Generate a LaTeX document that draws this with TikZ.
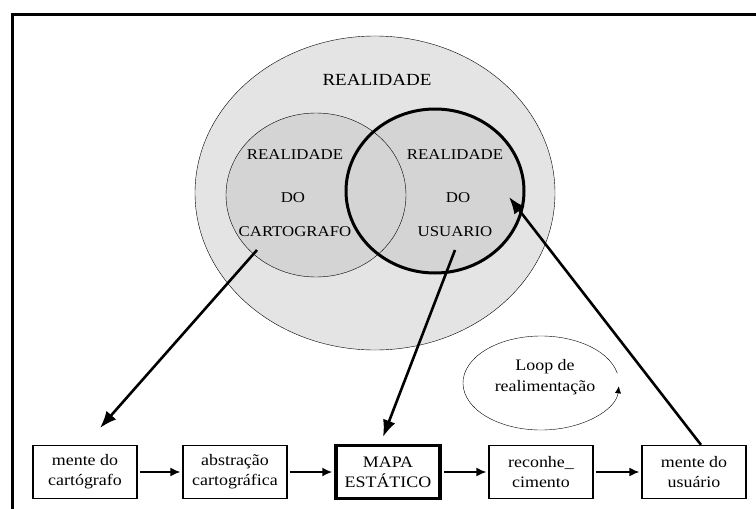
\documentclass[tikz,border=0pt]{standalone}
\usepackage{fontspec}
\setmainfont[FakeStretch=1.12]{Liberation Serif}
\usepackage{tikz}
\usetikzlibrary{shapes.geometric, arrows.meta, positioning}
\definecolor{realgray}{RGB}{228, 228, 228}
\definecolor{mindgray}{RGB}{212, 212, 212}

\begin{document}
\begin{tikzpicture}[x=1pt, y=-1pt,
  box/.style={draw, line width=1.3pt, minimum width=104pt, minimum height=53pt, inner sep=1pt, align=center, font=\fontsize{16}{20}\selectfont},
  flow/.style={line width=1.6pt, -{Latex[length=10pt, width=9pt]}, shorten >=2pt, shorten <=2pt},
  bigarrow/.style={line width=2.6pt, -{Latex[length=17pt, width=13pt]}},
  caps/.style={font=\fontsize{15}{17}\selectfont}]

\useasboundingbox (0,0) rectangle (756,509);
\draw[line width=3pt] (12,509) -- (12,14) -- (756,14);

% the three realities
\node[ellipse, draw, thin, fill=realgray, minimum width=360pt, minimum height=314pt] (realidade) at (375,193) {};
\node[ellipse, fill=mindgray, minimum width=180pt, minimum height=164pt] (realCart) at (316,195) {};
\node[ellipse, fill=mindgray, minimum width=178pt, minimum height=164pt] (realUsu) at (435,191) {};
\draw[thin] (realCart.center) ellipse [x radius=90pt, y radius=82pt];
\draw[line width=3pt] (realUsu.center) ellipse [x radius=89pt, y radius=82pt];

\node[font=\fontsize{17}{19}\selectfont] (realTxt) at (377,80) {REALIDADE};
\node[caps] (cartTxtA) at (295,155) {REALIDADE};
\node[caps] (cartTxtB) at (293,198) {DO};
\node[caps] (cartTxtC) at (295,232) {CARTOGRAFO};
\node[caps] (usuTxtA) at (455,155) {REALIDADE};
\node[caps] (usuTxtB) at (458,198) {DO};
\node[caps] (usuTxtC) at (455,232) {USUARIO};

% feedback loop
\coordinate (loopc) at (541,383);
\node[align=center, font=\fontsize{16}{21}\selectfont] (loopTxt) at (545,377) {Loop de\\realimentação};
\draw[thin, -{Latex[length=7pt, width=6pt]}] ([shift={(12:78pt and 47pt)}]loopc) arc[start angle=12, end angle=356, x radius=78pt, y radius=47pt];

% chain of boxes
\node[box] (menteCart) at (85,472) {mente do\\cartógrafo};
\node[box] (abstracao) at (235,472) {abstração\\cartográfica};
\node[box, line width=3.5pt] (mapa) at (388,472) {MAPA\\ESTÁTICO};
\node[box] (reconhec) at (541,472) {reconhe\_\\cimento};
\node[box] (menteUsu) at (694,472) {mente do\\usuário};

\draw[flow] (menteCart) -- (abstracao);
\draw[flow] (abstracao) -- (mapa);
\draw[flow] (mapa) -- (reconhec);
\draw[flow] (reconhec) -- (menteUsu);

% big arrows
\coordinate (cartFrom) at (257,250);
\coordinate (cartTo) at (100,428);
\coordinate (usuFrom) at (455,250);
\coordinate (mapaTo) at (383,437);
\coordinate (usuTo) at (509,197);
\draw[bigarrow] (cartFrom) -- (cartTo);
\draw[bigarrow] (usuFrom) -- (mapaTo);
\draw[bigarrow] ([xshift=7pt]menteUsu.north) -- (usuTo);
\end{tikzpicture}
\end{document}
